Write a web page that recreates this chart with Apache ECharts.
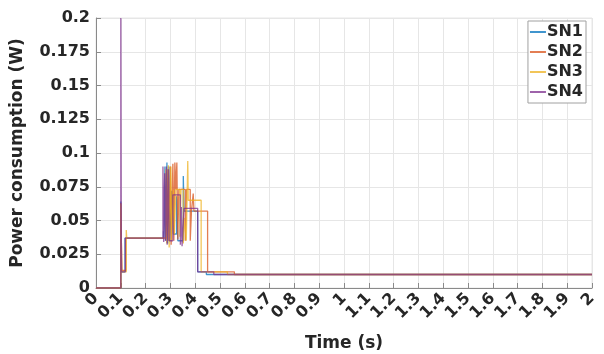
<!DOCTYPE html>
<html><head><meta charset="utf-8">
<script src="https://cdn.jsdelivr.net/npm/echarts@6/dist/echarts.min.js"></script>
<style>html,body{margin:0;padding:0;background:#fff}#c{width:604px;height:354px}</style>
</head><body><div id="c"></div>
<script>
const seriesNames = ['SN1','SN2','SN3','SN4'];
const colors = ['#0072BD','#D95319','#EDB120','#7E2F8E'];
const xTicks = [0,0.1,0.2,0.3,0.4,0.5,0.6,0.7,0.8,0.9,1,1.1,1.2,1.3,1.4,1.5,1.6,1.7,1.8,1.9,2];
const yTicks = [0,0.025,0.05,0.075,0.1,0.125,0.15,0.175,0.2];

const sn1 = [[0,0],[0.1,0],[0.1,0.064],[0.103,0.064],[0.103,0.012],[0.117,0.012],[0.117,0.037],
[0.272,0.037],[0.272,0.042],[0.274,0.042],[0.274,0.037],[0.278,0.037],[0.278,0.09],[0.281,0.09],[0.281,0.035],[0.286,0.035],[0.286,0.093],[0.289,0.093],[0.289,0.033],[0.294,0.033],[0.294,0.09],[0.297,0.09],[0.297,0.035],[0.305,0.035],[0.305,0.072],[0.312,0.072],[0.312,0.04],[0.325,0.04],[0.325,0.068],[0.33,0.068],[0.33,0.035],[0.352,0.035],[0.352,0.083],[0.355,0.083],[0.355,0.057],[0.41,0.057],[0.41,0.012],[0.445,0.012],[0.445,0.01],[2,0.01]];

const sn2 = [[0,0],[0.1,0],[0.1,0.063],[0.104,0.063],[0.104,0.013],[0.12,0.013],[0.12,0.037],[0.285,0.037],[0.285,0.04],[0.29,0.04],[0.29,0.088],[0.293,0.088],[0.293,0.035],[0.3,0.035],[0.3,0.09],[0.303,0.09],[0.303,0.032],[0.31,0.032],[0.31,0.092],[0.314,0.092],[0.314,0.035],[0.318,0.035],[0.318,0.093],[0.322,0.093],[0.322,0.073],[0.326,0.073],[0.326,0.093],[0.33,0.093],[0.33,0.036],[0.334,0.036],[0.334,0.073],[0.36,0.073],[0.36,0.035],[0.365,0.035],[0.365,0.073],[0.38,0.073],[0.38,0.035],[0.385,0.035],[0.385,0.057],[0.392,0.057],[0.392,0.07],[0.395,0.07],[0.395,0.057],[0.45,0.057],[0.45,0.012],[0.558,0.012],[0.558,0.01],[2,0.01]];

const sn3 = [[0,0],[0.1,0],[0.1,0.062],[0.104,0.062],[0.104,0.012],[0.122,0.012],[0.122,0.043],[0.124,0.043],[0.124,0.037],[0.282,0.037],[0.282,0.088],[0.285,0.088],[0.285,0.033],[0.292,0.033],[0.292,0.091],[0.295,0.091],[0.295,0.03],[0.302,0.03],[0.302,0.09],[0.305,0.09],[0.305,0.035],[0.312,0.035],[0.312,0.073],[0.316,0.073],[0.316,0.04],[0.322,0.04],[0.322,0.073],[0.338,0.073],[0.338,0.038],[0.343,0.038],[0.343,0.073],[0.352,0.073],[0.352,0.033],[0.356,0.033],[0.356,0.052],[0.364,0.052],[0.364,0.035],[0.37,0.035],[0.37,0.094],[0.372,0.094],[0.372,0.065],[0.424,0.065],[0.424,0.012],[0.53,0.012],[0.53,0.01],[2,0.01]];

const sn4 = [[0,0],[0.1,0],[0.1,0.2],[0.1015,0.2],[0.1015,0.065],[0.103,0.065],[0.103,0.012],[0.118,0.012],[0.118,0.037],[0.27,0.037],[0.27,0.09],[0.273,0.09],[0.273,0.034],[0.277,0.034],[0.277,0.085],[0.28,0.085],[0.28,0.035],[0.284,0.035],[0.284,0.09],[0.287,0.09],[0.287,0.032],[0.292,0.032],[0.292,0.088],[0.295,0.088],[0.295,0.035],[0.31,0.035],[0.31,0.069],[0.34,0.069],[0.34,0.032],[0.344,0.032],[0.344,0.06],[0.347,0.06],[0.347,0.031],[0.355,0.031],[0.355,0.059],[0.41,0.059],[0.41,0.012],[0.475,0.012],[0.475,0.01],[2,0.01]];

const allData = [sn1, sn2, sn3, sn4];
const txt = '#262626';
const font = 'DejaVu Sans';

const chart = echarts.init(document.getElementById('c'), null, {renderer:'canvas'});
chart.setOption({
  animation: false,
  backgroundColor: '#fff',
  grid: {left: 96, right: 12, top: 18, bottom: 66, show: true, borderColor: '#e6e6e6', borderWidth: 1,
         containLabel: false, outerBoundsMode: 'none'},
  legend: {
    right: 18, top: 21, orient: 'vertical', itemGap: 4, itemWidth: 16, itemHeight: 2,
    padding: [3, 3, 3, 2], borderColor: '#a0a0a0', borderWidth: 1, backgroundColor: '#fff',
    textStyle: {fontFamily: font, fontWeight: 'bold', fontSize: 16, color: txt, padding: [0,0,0,-4]},
    icon: 'rect',
    data: seriesNames
  },
  xAxis: {
    type: 'value', min: 0, max: 2, interval: 0.1,
    name: 'Time (s)', nameLocation: 'middle', nameGap: 47,
    nameTextStyle: {fontFamily: font, fontWeight: 'bold', fontSize: 17, color: txt},
    axisLine: {show: true, onZero: false, lineStyle: {color: '#8a8a8a'}},
    axisTick: {show: true, inside: true, length: 5, lineStyle: {color: '#8a8a8a'}},
    axisLabel: {rotate: 45, fontFamily: font, fontWeight: 'bold', fontSize: 16, color: txt, margin: 8,
      formatter: v => { const s = xTicks.find(t => Math.abs(t - v) < 1e-9); return s === undefined ? '' : String(s); }},
    splitLine: {show: true, lineStyle: {color: '#e6e6e6', width: 1}}
  },
  yAxis: {
    type: 'value', min: 0, max: 0.2, interval: 0.025,
    name: 'Power consumption (W)', nameLocation: 'middle', nameGap: 70,
    nameTextStyle: {fontFamily: font, fontWeight: 'bold', fontSize: 17, color: txt},
    axisLine: {show: true, lineStyle: {color: '#8a8a8a'}},
    axisTick: {show: true, inside: true, length: 5, lineStyle: {color: '#8a8a8a'}},
    axisLabel: {fontFamily: font, fontWeight: 'bold', fontSize: 16, color: txt, margin: 6,
      formatter: v => { const s = yTicks.find(t => Math.abs(t - v) < 1e-9); return s === undefined ? '' : String(s); }},
    splitLine: {show: true, lineStyle: {color: '#e6e6e6', width: 1}}
  },
  series: allData.map((d, i) => ({
    name: seriesNames[i], type: 'line', data: d, showSymbol: false, symbol: 'none',
    color: colors[i],
    lineStyle: {width: 1.3, color: colors[i], opacity: 0.75},
    itemStyle: {color: colors[i], opacity: 0.75}
  }))
});
</script></body></html>
